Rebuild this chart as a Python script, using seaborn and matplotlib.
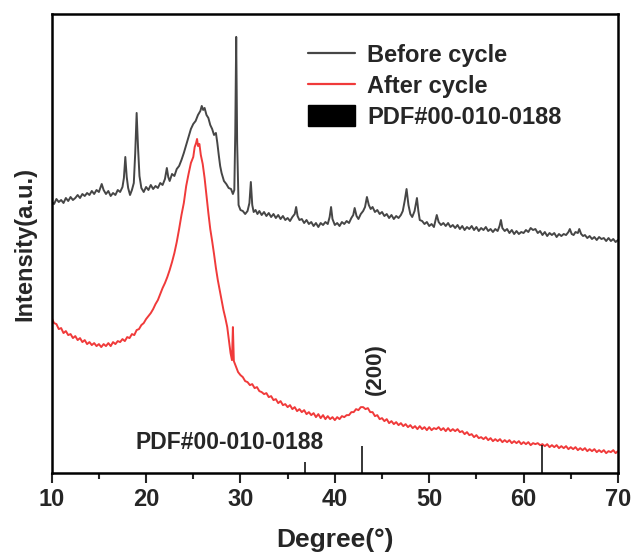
import numpy as np
import pandas as pd
import matplotlib
matplotlib.use("Agg")
import matplotlib.pyplot as plt
from matplotlib.lines import Line2D
from matplotlib.patches import Patch
import seaborn as sns

# ---- data ((2theta, intensity a.u.)) ----
before_cycle = [
    (10.0, 271), (10.25, 269), (10.5, 274), (10.75, 271), (11.0, 273), (11.25, 270), (11.5, 275), (11.75, 272),
    (12.0, 276), (12.25, 273), (12.5, 275), (12.75, 278), (13.0, 275), (13.25, 279), (13.5, 277), (13.75, 280),
    (14.0, 278), (14.25, 282), (14.5, 279), (14.75, 283), (15.0, 281), (15.3, 289), (15.5, 283), (15.75, 279),
    (16.0, 282), (16.25, 277), (16.5, 280), (16.75, 278), (17.0, 283), (17.25, 281), (17.5, 286), (17.65, 295),
    (17.8, 316), (17.95, 296), (18.1, 285), (18.3, 278), (18.5, 283), (18.7, 290), (18.85, 320), (19.0, 360),
    (19.15, 325), (19.3, 297), (19.5, 285), (19.75, 281), (20.0, 286), (20.25, 283), (20.5, 288), (20.75, 284),
    (21.0, 287), (21.25, 285), (21.5, 290), (21.75, 288), (22.0, 294), (22.2, 305), (22.35, 296), (22.5, 292),
    (22.75, 299), (23.0, 297), (23.25, 304), (23.5, 307), (23.75, 313), (24.0, 320), (24.25, 328), (24.5, 336),
    (24.75, 344), (25.0, 349), (25.25, 352), (25.5, 358), (25.75, 362), (25.9, 367), (26.05, 363), (26.2, 365),
    (26.4, 358), (26.6, 355), (26.8, 348), (27.0, 344), (27.2, 338), (27.4, 340), (27.55, 330), (27.7, 318),
    (27.85, 307), (28.0, 300), (28.25, 292), (28.5, 289), (28.75, 285), (29.0, 284), (29.2, 279), (29.35, 283),
    (29.45, 340), (29.55, 436), (29.65, 330), (29.8, 268), (30.0, 263), (30.25, 262), (30.5, 259), (30.75, 262),
    (30.95, 270), (31.1, 291), (31.25, 268), (31.4, 261), (31.6, 263), (31.8, 259), (32.0, 262), (32.25, 258),
    (32.5, 261), (32.75, 257), (33.0, 260), (33.25, 256), (33.5, 259), (33.75, 255), (34.0, 258), (34.25, 254),
    (34.5, 257), (34.75, 253), (35.0, 255), (35.25, 252), (35.5, 256), (35.75, 259), (35.9, 266), (36.05, 257),
    (36.25, 253), (36.5, 254), (36.75, 250), (37.0, 253), (37.25, 249), (37.5, 251), (37.75, 247), (38.0, 250),
    (38.25, 246), (38.5, 250), (38.75, 248), (39.0, 251), (39.25, 249), (39.45, 256), (39.6, 266), (39.75, 254),
    (40.0, 248), (40.25, 250), (40.5, 247), (40.75, 251), (41.0, 249), (41.25, 252), (41.5, 250), (41.75, 255),
    (41.95, 258), (42.1, 265), (42.3, 257), (42.5, 254), (42.75, 259), (43.0, 262), (43.2, 266), (43.4, 276),
    (43.6, 268), (43.8, 264), (44.0, 266), (44.25, 261), (44.5, 263), (44.75, 259), (45.0, 261), (45.25, 257),
    (45.5, 259), (45.75, 255), (46.0, 258), (46.25, 254), (46.5, 257), (46.75, 255), (47.0, 258), (47.2, 262),
    (47.4, 272), (47.6, 284), (47.8, 268), (48.0, 259), (48.2, 256), (48.45, 262), (48.7, 275), (48.85, 262),
    (49.0, 253), (49.25, 252), (49.5, 249), (49.75, 251), (50.0, 247), (50.25, 249), (50.5, 246), (50.8, 258),
    (51.0, 251), (51.25, 248), (51.5, 250), (51.75, 247), (52.0, 250), (52.25, 246), (52.5, 248), (52.75, 245),
    (53.0, 248), (53.25, 244), (53.5, 247), (53.75, 243), (54.0, 246), (54.25, 244), (54.5, 247), (54.75, 243),
    (55.0, 246), (55.25, 242), (55.5, 245), (55.75, 243), (56.0, 246), (56.25, 242), (56.5, 244), (56.75, 241),
    (57.0, 244), (57.25, 242), (57.45, 247), (57.6, 253), (57.75, 245), (58.0, 242), (58.25, 244), (58.5, 240),
    (58.75, 243), (59.0, 239), (59.25, 242), (59.5, 239), (59.75, 241), (60.0, 240), (60.25, 243), (60.5, 241),
    (60.75, 245), (61.0, 243), (61.25, 244), (61.5, 240), (61.75, 242), (62.0, 238), (62.25, 241), (62.5, 237),
    (62.75, 240), (63.0, 238), (63.25, 240), (63.5, 236), (63.75, 239), (64.0, 237), (64.25, 239), (64.5, 238),
    (64.75, 241), (64.9, 244), (65.1, 239), (65.3, 238), (65.5, 241), (65.75, 240), (65.9, 244), (66.1, 239),
    (66.3, 237), (66.5, 238), (66.75, 235), (67.0, 237), (67.25, 234), (67.5, 236), (67.75, 233), (68.0, 236),
    (68.25, 234), (68.5, 235), (68.75, 232), (69.0, 235), (69.25, 232), (69.5, 234), (69.75, 231), (70.0, 233),
]

after_cycle = [
    (10.0, 155), (10.25, 150), (10.5, 149), (10.75, 144), (11.0, 145), (11.25, 140), (11.5, 142), (11.75, 138),
    (12.0, 139), (12.25, 135), (12.5, 137), (12.75, 133), (13.0, 135), (13.25, 131), (13.5, 133), (13.75, 129),
    (14.0, 131), (14.25, 128), (14.5, 130), (14.75, 127), (15.0, 129), (15.25, 126), (15.5, 129), (15.75, 127),
    (16.0, 130), (16.25, 127), (16.5, 131), (16.75, 129), (17.0, 132), (17.25, 131), (17.5, 134), (17.75, 132),
    (18.0, 136), (18.25, 135), (18.5, 139), (18.75, 138), (19.0, 143), (19.25, 144), (19.5, 148), (19.75, 150),
    (20.0, 154), (20.25, 157), (20.5, 160), (20.75, 164), (21.0, 169), (21.25, 173), (21.5, 179), (21.75, 185),
    (22.0, 190), (22.25, 196), (22.5, 203), (22.75, 211), (23.0, 220), (23.25, 231), (23.5, 244), (23.75, 258),
    (24.0, 270), (24.25, 287), (24.5, 299), (24.75, 310), (25.0, 316), (25.15, 326), (25.3, 330), (25.4, 334),
    (25.5, 327), (25.65, 329), (25.8, 318), (26.0, 309), (26.2, 295), (26.4, 277), (26.6, 260), (26.8, 244),
    (27.0, 232), (27.2, 219), (27.4, 205), (27.6, 193), (27.8, 183), (28.0, 173), (28.2, 163), (28.4, 155),
    (28.6, 146), (28.8, 131), (28.95, 120), (29.1, 113), (29.2, 146), (29.3, 112), (29.5, 107), (29.75, 101),
    (30.0, 98), (30.25, 96), (30.5, 92), (30.75, 91), (31.0, 88), (31.25, 89), (31.5, 85), (31.75, 86),
    (32.0, 82), (32.25, 81), (32.5, 79), (32.75, 80), (33.0, 76), (33.25, 77), (33.5, 73), (33.75, 74),
    (34.0, 70), (34.25, 72), (34.5, 68), (34.75, 69), (35.0, 66), (35.25, 68), (35.5, 64), (35.75, 66),
    (36.0, 62), (36.25, 64), (36.5, 61), (36.75, 63), (37.0, 59), (37.25, 61), (37.5, 58), (37.75, 60),
    (38.0, 56), (38.25, 59), (38.5, 55), (38.75, 58), (39.0, 54), (39.25, 57), (39.5, 54), (39.75, 56),
    (40.0, 53), (40.25, 56), (40.5, 54), (40.75, 57), (41.0, 56), (41.25, 58), (41.5, 58), (41.75, 61),
    (42.0, 61), (42.25, 64), (42.5, 63), (42.75, 66), (43.0, 66), (43.25, 64), (43.5, 65), (43.75, 61),
    (44.0, 61), (44.25, 57), (44.5, 58), (44.75, 54), (45.0, 55), (45.25, 52), (45.5, 54), (45.75, 50),
    (46.0, 52), (46.25, 49), (46.5, 51), (46.75, 48), (47.0, 50), (47.25, 47), (47.5, 49), (47.75, 46),
    (48.0, 48), (48.25, 45), (48.5, 47), (48.75, 44), (49.0, 47), (49.25, 44), (49.5, 46), (49.75, 43),
    (50.0, 46), (50.25, 43), (50.5, 45), (50.75, 44), (51.0, 46), (51.25, 43), (51.5, 45), (51.75, 42),
    (52.0, 45), (52.25, 42), (52.5, 44), (52.75, 42), (53.0, 44), (53.25, 41), (53.5, 42), (53.75, 39),
    (54.0, 41), (54.25, 38), (54.5, 39), (54.75, 36), (55.0, 38), (55.25, 35), (55.5, 36), (55.75, 34),
    (56.0, 36), (56.25, 33), (56.5, 35), (56.75, 32), (57.0, 34), (57.25, 32), (57.5, 34), (57.75, 31),
    (58.0, 33), (58.25, 31), (58.5, 33), (58.75, 30), (59.0, 32), (59.25, 30), (59.5, 32), (59.75, 29),
    (60.0, 31), (60.25, 29), (60.5, 31), (60.75, 28), (61.0, 30), (61.25, 29), (61.5, 30), (61.75, 28),
    (62.0, 29), (62.25, 27), (62.5, 29), (62.75, 26), (63.0, 28), (63.25, 26), (63.5, 28), (63.75, 25),
    (64.0, 27), (64.25, 25), (64.5, 27), (64.75, 24), (65.0, 26), (65.25, 24), (65.5, 26), (65.75, 23),
    (66.0, 25), (66.25, 23), (66.5, 25), (66.75, 22), (67.0, 24), (67.25, 22), (67.5, 24), (67.75, 21),
    (68.0, 23), (68.25, 21), (68.5, 23), (68.75, 20), (69.0, 22), (69.25, 21), (69.5, 23), (69.75, 20),
    (70.0, 22),
]

pdf_pos = [36.8, 42.9, 61.9]
pdf_height = [11, 27, 28]

x_ticks = [10, 20, 30, 40, 50, 60, 70]
x_minor = [15, 25, 35, 45, 55, 65]
legend_labels = ["Before cycle", "After cycle", "PDF#00-010-0188"]

# ---- style ----
sns.set_theme(style="white")
plt.rcParams['font.family'] = ['Liberation Sans', 'DejaVu Sans']
plt.rcParams['font.weight'] = 'bold'

fig = plt.figure(figsize=(6.32, 5.56), dpi=100)
ax = fig.add_axes([0.0818, 0.149, 0.896, 0.826])

df_b = pd.DataFrame(before_cycle, columns=["x", "y"])
df_a = pd.DataFrame(after_cycle, columns=["x", "y"])

black_c = "#464646"
red_c = "#f03a3a"
sns.lineplot(data=df_b, x="x", y="y", ax=ax, color=black_c, linewidth=1.4, sort=False)
sns.lineplot(data=df_a, x="x", y="y", ax=ax, color=red_c, linewidth=1.4, sort=False)
ax.vlines(pdf_pos, 0, pdf_height, color="black", linewidth=1.1)

ax.set_xlim(10, 70)
ax.set_ylim(0, 459)
ax.set_xticks(x_ticks)
ax.set_xticks(x_minor, minor=True)
ax.set_yticks([])
ax.tick_params(axis='x', which='major', direction='out', length=7, width=1.5,
               bottom=True, labelsize=17, pad=4)
ax.tick_params(axis='x', which='minor', direction='out', length=4, width=1.5, bottom=True)
for lab in ax.get_xticklabels():
    lab.set_fontweight('bold')
for s in ax.spines.values():
    s.set_color("black")
    s.set_linewidth(1.8)

ax.set_xlabel("Degree(°)", fontsize=19, fontweight='bold', labelpad=12)
ax.set_ylabel("Intensity(a.u.)", fontsize=17, fontweight='bold', labelpad=11)

ax.text(28.9, 31, "PDF#00-010-0188", fontsize=16.5, fontweight='bold',
        ha='center', va='center')
ax.text(44.3, 104, "(200)", fontsize=16, fontweight='bold', rotation=90,
        ha='center', va='center')

handles = [Line2D([], [], color=black_c, linewidth=1.6),
           Line2D([], [], color=red_c, linewidth=1.6),
           Patch(facecolor="black", edgecolor="black")]
ax.legend(handles, legend_labels, loc='upper left', bbox_to_anchor=(0.4526, 0.935),
          frameon=False, prop={'weight': 'bold', 'size': 17},
          handlelength=2.0, handleheight=1.0, handletextpad=0.5,
          labelspacing=0.3, borderpad=0, borderaxespad=0)

fig.savefig("out.png", dpi=100)
